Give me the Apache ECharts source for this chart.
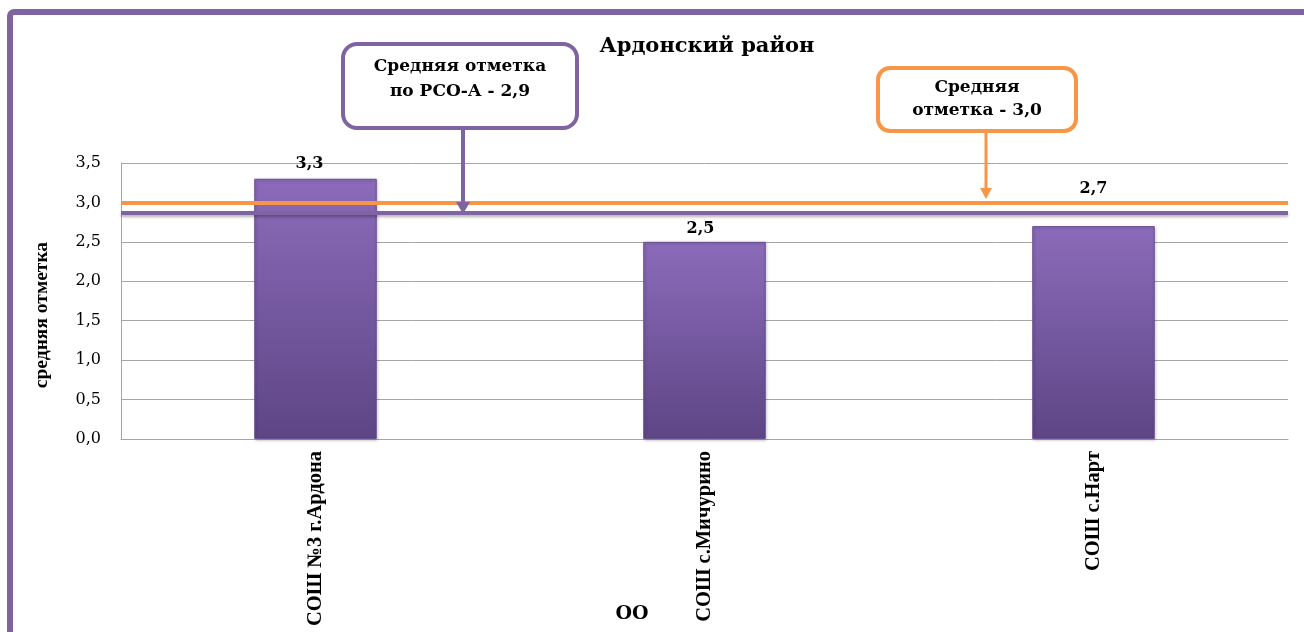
<!DOCTYPE html>
<html>
<head>
<meta charset="utf-8">
<script src="https://cdn.jsdelivr.net/npm/echarts@6/dist/echarts.min.js"></script>
<style>
html,body{margin:0;padding:0;background:#fff;}
#main{width:1304px;height:632px;}
</style>
</head>
<body>
<div id="main"></div>
<script>
const categories = ['СОШ №3 г.Ардона', 'СОШ с.Мичурино', 'СОШ с.Нарт'];
const values = [3.3, 2.5, 2.7];
const labelOffsetsX = [-6, -4, 0];
const labelOffsetsY = [-1, 1, -23];
const districtAvg = 3.0;
const regionAvg = 2.87;
const yTicks = [0, 0.5, 1, 1.5, 2, 2.5, 3, 3.5];
const titleText = 'Ардонский район';
const yName = 'средняя отметка';
const xName = 'ОО';
const callRegion = 'Средняя отметка\nпо РСО-А - 2,9';
const callDistrict = 'Средняя\nотметка - 3,0';

const SERIF = '"Liberation Serif","DejaVu Serif",serif';
const WSERIF = '"DejaVu Serif","Liberation Serif",serif';
const PURPLE = '#8064A2';
const ORANGE = '#F79646';

const chart = echarts.init(document.getElementById('main'));
const fmt = v => v.toFixed(1).replace('.', ',');

chart.setOption({
  animation: false,
  backgroundColor: '#fff',
  title: {
    text: titleText, left: 702, top: 31, textAlign: 'center',
    textStyle: {fontFamily: WSERIF, fontSize: 21, fontWeight: 'bold', color: '#000'}
  },
  grid: {left: 121, right: 16, top: 163, bottom: 193},
  xAxis: {
    type: 'category', data: categories,
    axisLine: {show: true, lineStyle: {color: '#a6a6a6'}},
    axisTick: {show: false},
    axisLabel: {rotate: 90, interval: 0, margin: 12, fontFamily: SERIF, fontSize: 20.5, fontWeight: 'bold', color: '#000'}
  },
  yAxis: {
    type: 'value', min: yTicks[0], max: yTicks[yTicks.length - 1], interval: 0.5,
    axisLine: {show: true, lineStyle: {color: '#a6a6a6'}},
    axisTick: {show: false},
    splitLine: {lineStyle: {color: '#a6a6a6'}},
    axisLabel: {formatter: fmt, fontFamily: WSERIF, fontSize: 16, color: '#000', margin: 20}
  },
  series: [{
    type: 'bar',
    barWidth: '31.5%',
    data: values.map((v, i) => ({value: v, label: {offset: [labelOffsetsX[i], labelOffsetsY[i]]}})),
    itemStyle: {
      color: new echarts.graphic.LinearGradient(0, 0, 0, 1, [
        {offset: 0, color: '#8B6BBA'},
        {offset: 1, color: '#5E4685'}
      ]),
      borderColor: '#6a5192', borderWidth: 1,
      shadowColor: 'rgba(0,0,0,0.25)', shadowBlur: 3, shadowOffsetX: 1, shadowOffsetY: 1
    },
    label: {
      show: true, position: 'top', distance: 6, formatter: p => fmt(p.value),
      fontFamily: WSERIF, fontSize: 16, fontWeight: 'bold', color: '#000'
    },
    markLine: {
      silent: true, symbol: 'none', label: {show: false},
      data: [
        {yAxis: districtAvg, lineStyle: {color: ORANGE, width: 4, type: 'solid'}},
        {yAxis: regionAvg, lineStyle: {color: PURPLE, width: 4, type: 'solid', shadowColor: 'rgba(0,0,0,0.3)', shadowBlur: 3, shadowOffsetY: 2}}
      ]
    }
  }],
  graphic: [
    {type: 'rect', shape: {x: 10, y: 12, width: 1400, height: 700, r: 4},
     style: {fill: 'none', stroke: PURPLE, lineWidth: 6}, silent: true, z: 100},
    {type: 'text', x: 42, y: 315, rotation: Math.PI / 2,
     style: {text: yName, fill: '#000', font: 'bold 19.5px ' + SERIF, align: 'center', verticalAlign: 'middle'}},
    {type: 'text', x: 632, y: 614,
     style: {text: xName, fill: '#000', font: 'bold 19px ' + WSERIF, align: 'center', verticalAlign: 'middle'}},
    // region callout
    {type: 'rect', shape: {x: 343, y: 44, width: 234, height: 84, r: 14},
     style: {fill: '#fff', stroke: PURPLE, lineWidth: 4}, z: 50},
    {type: 'text', x: 460, y: 54, style: {text: callRegion, fill: '#000', font: 'bold 17px ' + WSERIF, align: 'center', lineHeight: 25}, z: 51},
    {type: 'line', shape: {x1: 463, y1: 128, x2: 463, y2: 204}, style: {stroke: PURPLE, lineWidth: 4}, z: 50},
    {type: 'polygon', shape: {points: [[456, 202], [470, 202], [463, 214]]}, style: {fill: PURPLE}, z: 50},
    // district callout
    {type: 'rect', shape: {x: 878, y: 68, width: 198, height: 63, r: 12},
     style: {fill: '#fff', stroke: ORANGE, lineWidth: 4}, z: 50},
    {type: 'text', x: 977, y: 76, style: {text: callDistrict, fill: '#000', font: 'bold 17px ' + WSERIF, align: 'center', lineHeight: 23}, z: 51},
    {type: 'line', shape: {x1: 986, y1: 131, x2: 986, y2: 190}, style: {stroke: ORANGE, lineWidth: 3}, z: 50},
    {type: 'polygon', shape: {points: [[980, 188], [992, 188], [986, 199]]}, style: {fill: ORANGE}, z: 50}
  ]
});
</script>
</body>
</html>
